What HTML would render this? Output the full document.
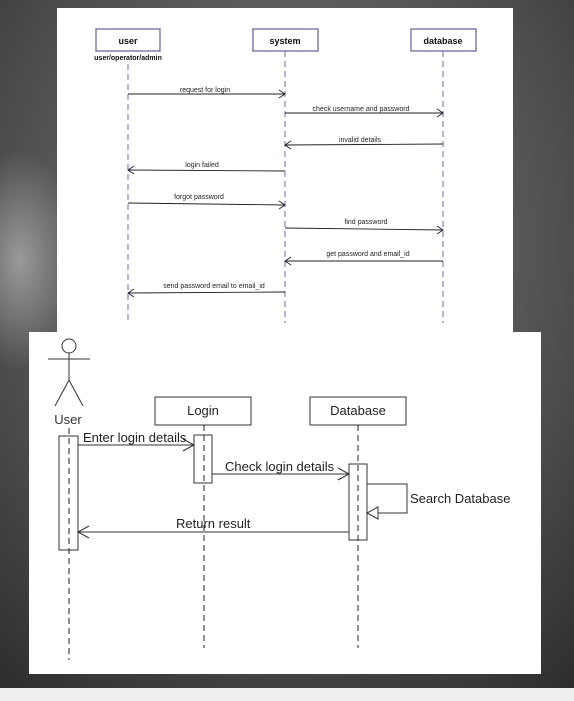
<!DOCTYPE html>
<html><head><meta charset="utf-8"><style>
html,body{margin:0;padding:0;width:574px;height:701px;overflow:hidden;background:#3c3c3c}
svg{display:block}
</style></head><body>
<svg width="574" height="701" xmlns="http://www.w3.org/2000/svg" font-family="Liberation Sans, sans-serif">
<defs>
<radialGradient id="bg" cx="0.5" cy="0.35" r="0.8">
<stop offset="0" stop-color="#7a7a7a"/><stop offset="0.6" stop-color="#505050"/><stop offset="1" stop-color="#2e2e2e"/>
</radialGradient>
<radialGradient id="lp" cx="0.5" cy="0.5" r="0.5">
<stop offset="0" stop-color="#9a9a9a"/><stop offset="1" stop-color="#9a9a9a" stop-opacity="0"/>
</radialGradient>
</defs>
<rect width="574" height="701" fill="url(#bg)"/>
<ellipse cx="20" cy="260" rx="60" ry="110" fill="url(#lp)"/>
<rect x="0" y="688" width="574" height="13" fill="#efefef"/>

<!-- top panel -->
<rect x="57" y="8" width="456" height="324" fill="#fff"/>
<g stroke="#6b67b0" stroke-width="1.3" fill="#fff">
<rect x="96" y="29" width="64" height="22"/>
<rect x="253" y="29" width="65" height="22"/>
<rect x="411" y="29" width="65" height="22"/>
</g>
<g font-size="9" font-weight="bold" text-anchor="middle" fill="#111">
<text x="128" y="44">user</text><text x="285" y="44">system</text><text x="443" y="44">database</text>
</g>
<text x="128" y="60" font-size="7" font-weight="bold" text-anchor="middle" fill="#111">user/operator/admin</text>
<g stroke="#6b67b0" stroke-width="1" stroke-dasharray="6,4">
<line x1="128" y1="64" x2="128" y2="320"/>
<line x1="285" y1="51" x2="285" y2="323"/>
<line x1="443" y1="51" x2="443" y2="323"/>
</g>
<g stroke="#222" stroke-width="0.9" fill="none">
<line x1="128" y1="94" x2="285" y2="94"/><path d="M279,90 L285,94 L279,98"/>
<line x1="285" y1="113" x2="443" y2="113"/><path d="M437,109 L443,113 L437,117"/>
<line x1="443" y1="144" x2="285" y2="145"/><path d="M291,141 L285,145 L291,149"/>
<line x1="285" y1="171" x2="128" y2="170"/><path d="M134,166 L128,170 L134,174"/>
<line x1="128" y1="203" x2="285" y2="205"/><path d="M279,201 L285,205 L279,209"/>
<line x1="285" y1="228" x2="443" y2="230"/><path d="M437,226 L443,230 L437,234"/>
<line x1="443" y1="261" x2="285" y2="261"/><path d="M291,257 L285,261 L291,265"/>
<line x1="285" y1="292" x2="128" y2="293"/><path d="M134,289 L128,293 L134,297"/>
</g>
<g font-size="7" text-anchor="middle" fill="#222">
<text x="205" y="92">request for login</text>
<text x="361" y="111">check username and password</text>
<text x="360" y="142">invalid details</text>
<text x="202" y="167">login failed</text>
<text x="199" y="199">forgot password</text>
<text x="366" y="224">find password</text>
<text x="368" y="256">get password and email_id</text>
<text x="214" y="288">send password email to email_id</text>
</g>

<!-- bottom panel -->
<rect x="29" y="332" width="512" height="342" fill="#fff"/>
<g stroke="#333" stroke-width="1" fill="none">
<circle cx="69" cy="346" r="7"/>
<line x1="69" y1="353" x2="69" y2="380"/>
<line x1="48" y1="359" x2="90" y2="359"/>
<path d="M55,406 L69,380 L83,406"/>
<rect x="155" y="397" width="96" height="28" fill="#fff"/>
<rect x="310" y="397" width="96" height="28" fill="#fff"/>
</g>
<text x="68" y="424" font-size="13" text-anchor="middle" fill="#333">User</text>
<text x="203" y="415" font-size="13" text-anchor="middle" fill="#222">Login</text>
<text x="358" y="415" font-size="13" text-anchor="middle" fill="#222">Database</text>
<g stroke="#222" stroke-width="1" stroke-dasharray="6,4">
<line x1="69" y1="428" x2="69" y2="660"/>
<line x1="204" y1="425" x2="204" y2="648"/>
<line x1="358" y1="425" x2="358" y2="648"/>
</g>
<g stroke="#333" stroke-width="1" fill="none">
<rect x="59" y="436" width="19" height="114"/>
<rect x="194" y="435" width="18" height="48"/>
<rect x="349" y="464" width="18" height="76"/>
<line x1="78" y1="445" x2="194" y2="445"/><path d="M183,439 L194,445 L183,451"/>
<line x1="212" y1="474" x2="349" y2="474"/><path d="M338,468 L349,474 L338,480"/>
<path d="M367,484 L407,484 L407,513 L367,513"/>
<path d="M378,507 L367,513 L378,519 Z" fill="#fff"/>
<line x1="349" y1="532" x2="78" y2="532"/><path d="M89,526 L78,532 L89,538"/>
</g>
<g font-size="13" fill="#222">
<text x="83" y="442">Enter login details</text>
<text x="225" y="471">Check login details</text>
<text x="410" y="503">Search Database</text>
<text x="176" y="528">Return result</text>
</g>
</svg>
</body></html>
